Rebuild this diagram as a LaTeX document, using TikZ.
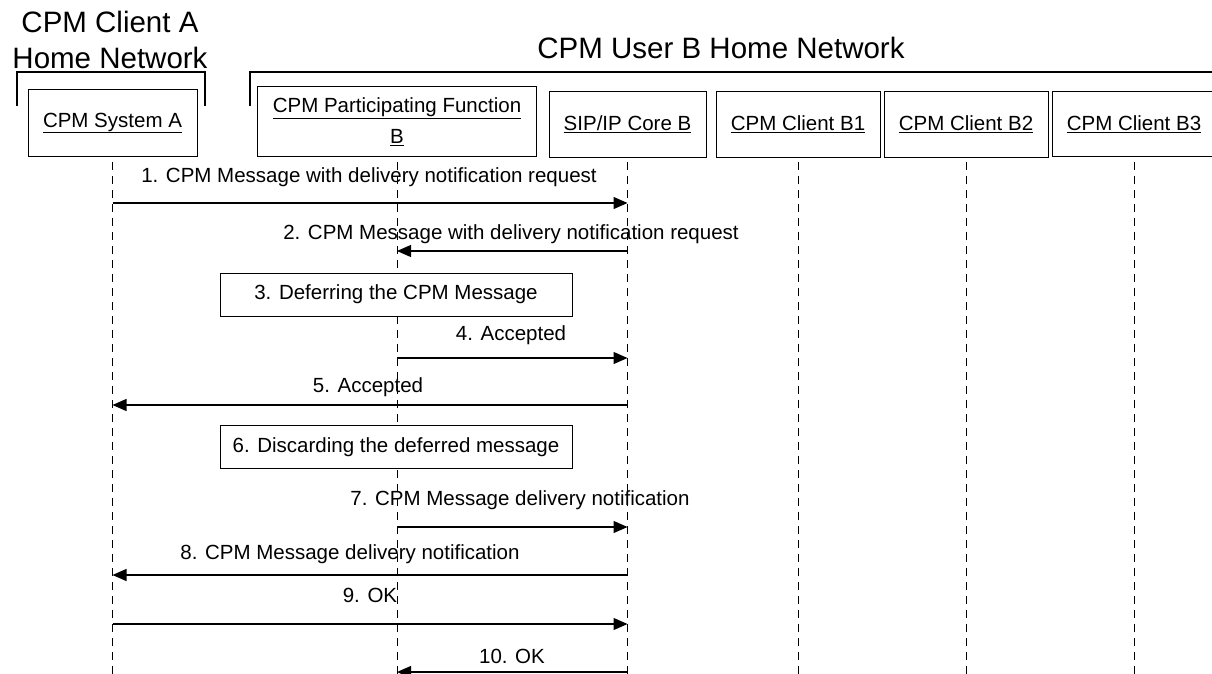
\documentclass[tikz,border=0pt]{standalone}
\usepackage{fontspec}
\setmainfont{Liberation Sans}
\usetikzlibrary{arrows.meta}
\tikzset{
  title/.style={align=center, inner sep=0pt, font=\fontsize{29.5}{36}\selectfont},
  entity/.style={draw, line width=1pt, fill=white, align=center, inner sep=0pt, font=\fontsize{20.5}{26}\selectfont},
  lifeline/.style={line width=1pt, dash pattern=on 8pt off 6pt},
  msg/.style={line width=1.2pt, -{Triangle[length=14pt,width=12pt]}},
  msglabel/.style={inner sep=0pt, font=\fontsize{20.5}{24}\selectfont},
  stepbox/.style={draw, line width=1pt, fill=white, minimum width=352pt, minimum height=43pt, inner sep=0pt, font=\fontsize{20.5}{24}\selectfont},
  bracket/.style={line width=1.8pt}
}
\begin{document}
\begin{tikzpicture}[x=1pt,y=-1pt]
        \useasboundingbox (0,0) rectangle (1212,674);
        % Network titles and brackets
        \node[title] (netA) at (110,40) {CPM Client A\\Home Network};
        \node[title] (netB) at (721,48) {CPM User B Home Network};
        \draw[bracket] (17,106) -- (17,72) -- (205,72) -- (205,106);
        \draw[bracket] (250,106) -- (250,72) -- (1230,72);

        % Entities
        \node[entity, minimum width=169pt, minimum height=66pt] (sysA) at (112.5,123) {\underline{CPM System A}};
        \node[entity, minimum width=279pt, minimum height=69pt] (pfB) at (397,121.5) {\underline{CPM Participating Function}\\[5pt]\underline{B}};
        \node[entity, minimum width=157pt, minimum height=65pt] (sip) at (627.5,124.5) {\underline{SIP/IP Core B}};
        \node[entity, minimum width=164pt, minimum height=65pt] (cB1) at (798,124.5) {\underline{CPM Client B1}};
        \node[entity, minimum width=164pt, minimum height=65pt] (cB2) at (966,124.5) {\underline{CPM Client B2}};
        \node[entity, minimum width=164pt, minimum height=65pt] (cB3) at (1134,124) {\underline{CPM Client B3}};

        % Lifelines
        \foreach \e in {sysA,pfB,sip,cB1,cB2,cB3}
            \draw[lifeline] (\e.south |- 0,162) -- (\e.south |- 0,680);

        % Messages
        \node[msglabel] (l1) at (369,177) {1. CPM Message with delivery notification request};
        \draw[msg] (sysA |- 0,203) -- (sip |- 0,203);
        \node[msglabel] (l2) at (511,234) {2. CPM Message with delivery notification request};
        \draw[msg] (sip |- 0,251) -- (pfB |- 0,251);

        \node[stepbox] (defer) at (396,294.5) {3. Deferring the CPM Message};

        \node[msglabel] (l4) at (511,335) {4. Accepted};
        \draw[msg] (pfB |- 0,358) -- (sip |- 0,358);
        \node[msglabel] (l5) at (368,387) {5. Accepted};
        \draw[msg] (sip |- 0,405) -- (sysA |- 0,405);

        \node[stepbox] (discard) at (396,447) {6. Discarding the deferred message};

        \node[msglabel] (l7) at (520,500) {7. CPM Message delivery notification};
        \draw[msg] (pfB |- 0,527) -- (sip |- 0,527);
        \node[msglabel] (l8) at (350,554) {8. CPM Message delivery notification};
        \draw[msg] (sip |- 0,575) -- (sysA |- 0,575);
        \node[msglabel] (l9) at (370,595) {9. OK};
        \draw[msg] (sysA |- 0,624) -- (sip |- 0,624);
        \node[msglabel] (l10) at (512,656) {10. OK};
        \draw[msg] (sip |- 0,672) -- (pfB |- 0,672);
\end{tikzpicture}
\end{document}
